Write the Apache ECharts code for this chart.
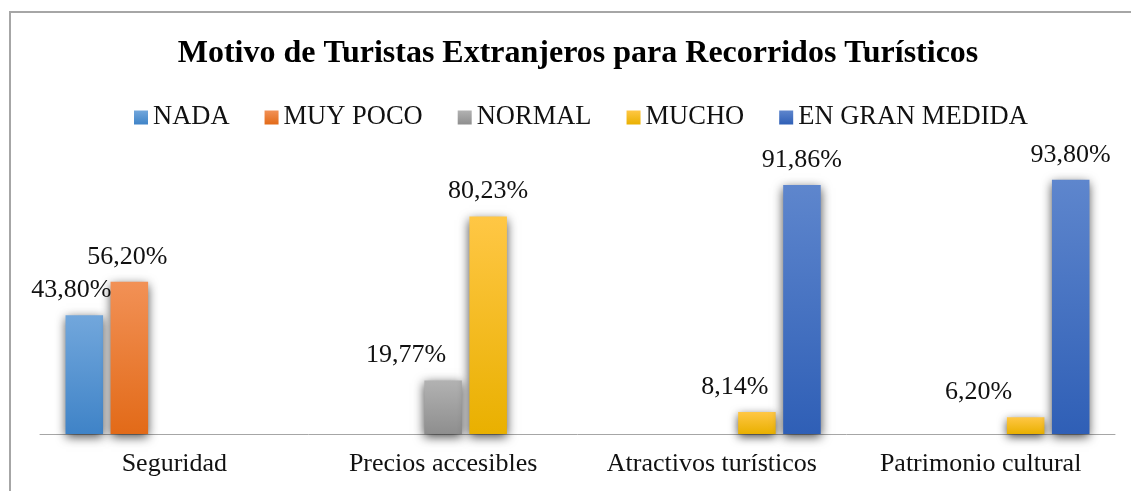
<!DOCTYPE html>
<html>
<head>
<meta charset="utf-8">
<script src="https://cdn.jsdelivr.net/npm/echarts@6/dist/echarts.min.js"></script>
<style>
  html, body { margin: 0; padding: 0; background: #fff; }
  #chart { width: 1131px; height: 491px; }
</style>
</head>
<body>
<div id="chart"></div>
<script>
  // categories and values (percent)
  const categories = ['Seguridad', 'Precios accesibles', 'Atractivos turísticos', 'Patrimonio cultural'];
  const seriesNames = ['NADA', 'MUY POCO', 'NORMAL', 'MUCHO', 'EN GRAN MEDIDA'];
  const nada = [43.80, null, null, null];
  const muyPoco = [56.20, null, null, null];
  const normal = [null, 19.77, null, null];
  const mucho = [null, 80.23, 8.14, 6.20];
  const enGranMedida = [null, null, 91.86, 93.80];

  const values = [nada, muyPoco, normal, mucho, enGranMedida];
  // gradient top / bottom per series
  const colors = [
    ['#72a7dc', '#3f83c7'],
    ['#f29156', '#e26a18'],
    ['#b2b2b2', '#8e8e8e'],
    ['#ffc745', '#e9b000'],
    ['#5e86cd', '#2f5fb6']
  ];
  // label nudges so the labels do not collide (style only)
  const labelShift = {
    '0-0': -13, '1-0': -2, '2-1': -37, '3-2': -22, '3-3': -47
  };

  const serif = '"Liberation Serif", "DejaVu Serif", serif';

  const gradient = s => new echarts.graphic.LinearGradient(0, 0, 0, 1, [
    {offset: 0, color: colors[s][0]},
    {offset: 1, color: colors[s][1]}
  ]);

  const series = values.map((vals, s) => ({
    name: seriesNames[s],
    type: 'bar',
    barGap: '20%',
    barCategoryGap: '19%',
    itemStyle: {
      color: gradient(s),
      shadowColor: 'rgba(0,0,0,0.7)',
      shadowBlur: 10,
      shadowOffsetY: 3
    },
    label: {
      show: true,
      position: 'top',
      distance: 12,
      fontFamily: serif,
      fontSize: 26,
      color: '#111',
      formatter: p => p.value.toFixed(2).replace('.', ',') + '%'
    },
    data: vals.map((v, c) => {
      const shift = labelShift[s + '-' + c];
      if (v === null) return null;
      return shift ? {value: v, label: {offset: [shift, 0]}} : v;
    })
  }));

  const chart = echarts.init(document.getElementById('chart'));
  const option = {
    animation: false,
    color: colors.map(c => c[0]),
    graphic: [{
      type: 'rect',
      shape: {x: 10, y: 12, width: 1140, height: 500},
      style: {fill: 'none', stroke: '#a6a6a6', lineWidth: 2},
      z: -1
    }],
    title: {
      text: 'Motivo de Turistas Extranjeros para Recorridos Turísticos',
      left: 573,
      textAlign: 'center',
      top: 33,
      textStyle: {
        fontFamily: serif,
        fontSize: 32,
        fontWeight: 'bold',
        color: '#000'
      }
    },
    legend: {
      left: 129,
      top: 99,
      icon: 'rect',
      itemWidth: 14,
      itemHeight: 14,
      itemGap: 35,
      textStyle: {fontFamily: serif, fontSize: 26.5, color: '#111'},
      data: seriesNames.map((n, i) => ({name: n, itemStyle: {color: gradient(i)}}))
    },
    grid: {
      left: 40,
      right: 16,
      top: 163,
      bottom: 57,
      containLabel: false
    },
    xAxis: {
      type: 'category',
      data: categories,
      axisLine: {lineStyle: {color: '#a6a6a6', width: 1}},
      axisTick: {show: false},
      axisLabel: {
        interval: 0,
        margin: 17,
        fontFamily: serif,
        fontSize: 26,
        color: '#111'
      }
    },
    yAxis: {
      type: 'value',
      min: 0,
      max: 100,
      show: false,
      splitLine: {show: false}
    },
    series: series
  };
  chart.setOption(option);
</script>
</body>
</html>
